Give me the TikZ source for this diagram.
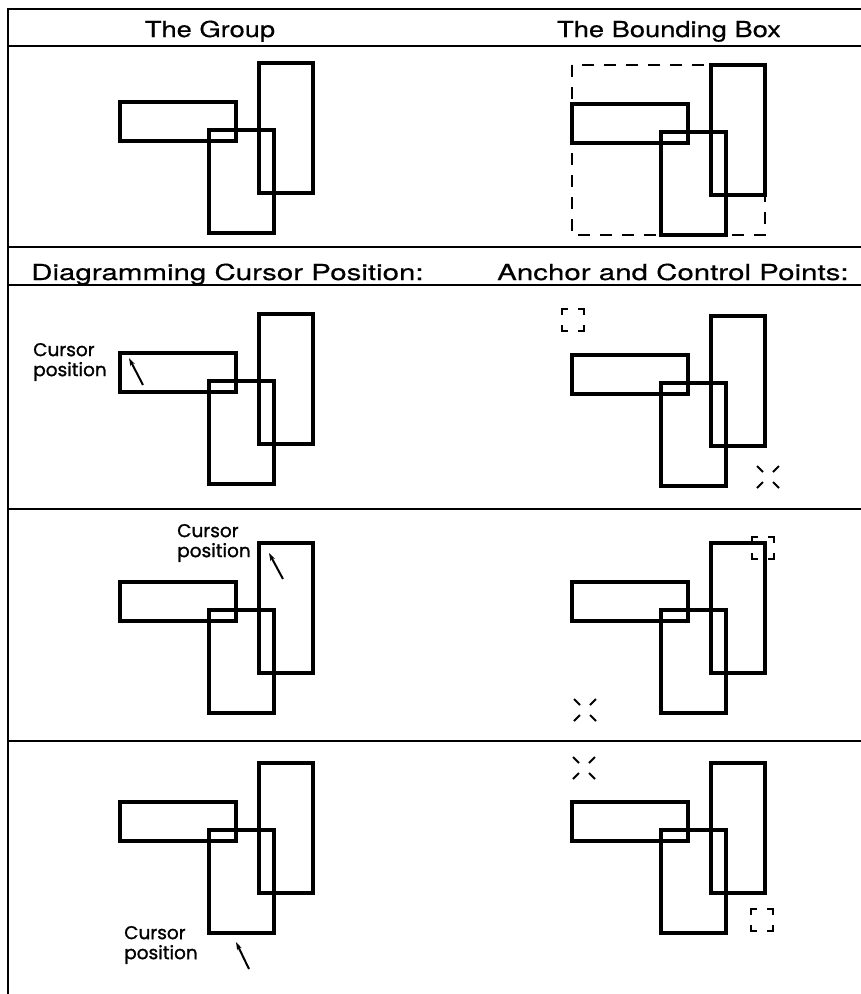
\documentclass[tikz,border=0pt]{standalone}
\usepackage{fontspec}
\setmainfont{TeX Gyre Heros}
\newfontfamily\headfont[FakeStretch=1.24, FakeBold=0.4]{TeX Gyre Heros}
\newfontfamily\subheadfont[FakeStretch=1.34, FakeBold=0.4]{TeX Gyre Heros}
\newfontfamily\labelfont[FakeBold=1.2]{Poppins}
\usetikzlibrary{arrows.meta}

% marker pics for anchor and control points
\tikzset{
 anchorpt/.pic={
  \draw[ptline] (-11,-5) -- (-11,-11) -- (-5,-11)
   (5,-11) -- (11,-11) -- (11,-5)
   (11,5) -- (11,11) -- (5,11)
   (-5,11) -- (-11,11) -- (-11,5);
 },
 ctrlpt/.pic={
  \draw[ptline] (-11,-11) -- (-5,-5) (11,-11) -- (5,-5)
   (11,11) -- (5,5) (-11,11) -- (-5,5);
 }
}

\begin{document}
\begin{tikzpicture}[x=1pt, y=-1pt,
 rule/.style={line width=2pt},
 rect/.style={line width=4pt},
 bbox/.style={line width=2.5pt, dash pattern=on 12pt off 10pt},
 ptline/.style={line width=2pt},
 head/.style={font=\headfont\fontsize{22}{24}\selectfont, inner sep=0pt},
 subhead/.style={font=\subheadfont\fontsize{22}{24}\selectfont, inner sep=0pt},
 cursorlab/.style={font=\labelfont\fontsize{18.5}{20}\selectfont, align=left, inner sep=0pt},
 >={Stealth[length=8pt, width=5pt]}]
\useasboundingbox (0,0) rectangle (861,994);

% table rules
\foreach \y in {9,46,247,285,509,741}
 \draw[rule] (8,\y) -- (861,\y);
\draw[rule] (8,8) -- (8,994);

% headings
\node[head, anchor=base] (hgroup) at (210,37) {The Group};
\node[head, anchor=base] (hbbox) at (669,37) {The Bounding Box};
\node[subhead, anchor=base west] (hcursor) at (31,280) {Diagramming Cursor Position:};
\node[subhead, anchor=base west] (hanchor) at (497,280) {Anchor and Control Points:};

% the group, drawn eight times
\foreach \dx/\dy in {0/0, 452/2, 0/251, 452/253, 0/480, 452/480, 0/700, 452/700} {
 \begin{scope}[shift={(\dx,\dy)}]
  \draw[rect] (120,102) rectangle (236,141);
  \draw[rect] (259,63) rectangle (313,193);
  \draw[rect] (209,130) rectangle (274,233);
 \end{scope}
}

% bounding box
\draw[bbox] (572,65) rectangle (765,235);

% cursor positions
\node[cursorlab] (lab2) at (70,362) {Cursor\\position};
\coordinate (tail2) at (143,385);
\coordinate (tip2) at (129,358);
\draw[->, ptline] (tail2) -- (tip2);

\node[cursorlab] (lab3) at (214,543) {Cursor\\position};
\coordinate (tail3) at (283,579);
\coordinate (tip3) at (269,553);
\draw[->, ptline] (tail3) -- (tip3);

\node[cursorlab] (lab4) at (161,945) {Cursor\\position};
\coordinate (tail4) at (249,969);
\coordinate (tip4) at (236,942);
\draw[->, ptline] (tail4) -- (tip4);

% anchor and control points
\pic at (573,320) {anchorpt};
\pic at (768,477) {ctrlpt};
\pic at (763,548) {anchorpt};
\pic at (585,710) {ctrlpt};
\pic at (762,920) {anchorpt};
\pic at (584,768) {ctrlpt};
\end{tikzpicture}
\end{document}
